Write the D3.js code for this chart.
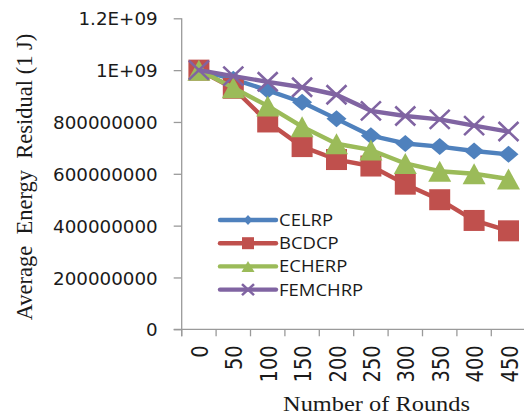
<!DOCTYPE html>
<html>
<head>
<meta charset="utf-8">
<script src="https://cdn.jsdelivr.net/npm/d3@7"></script>
<style>
  html, body { margin: 0; padding: 0; background: #fff; }
  svg { display: block; }
</style>
</head>
<body>
<svg id="chart" width="524" height="420"></svg>
<script>
// Rounds on the x axis
const rounds = ["0", "50", "100", "150", "200", "250", "300", "350", "400", "450"];

// Average residual energy per protocol
const celrp   = [1000e6, 965e6, 922e6, 876e6, 812e6, 747e6, 717e6, 705e6, 688e6, 675e6];
const bcdcp   = [1000e6, 930e6, 800e6, 705e6, 655e6, 630e6, 560e6, 500e6, 420e6, 380e6];
const echerp  = [1000e6, 932e6, 862e6, 782e6, 716e6, 692e6, 640e6, 610e6, 600e6, 580e6];
const femchrp = [1000e6, 977e6, 955e6, 934e6, 905e6, 843e6, 823e6, 810e6, 786e6, 763e6];

const seriesNames = ["CELRP", "BCDCP", "ECHERP", "FEMCHRP"];
const yTickValues = [0, 200e6, 400e6, 600e6, 800e6, 1000e6, 1200e6];
const yTickLabels = ["0", "200000000", "400000000", "600000000", "800000000", "1E+09", "1.2E+09"];

const series = [
  { name: seriesNames[0], values: celrp,   color: "#4F81BD", marker: "diamond" },
  { name: seriesNames[1], values: bcdcp,   color: "#C0504D", marker: "square" },
  { name: seriesNames[2], values: echerp,  color: "#9BBB59", marker: "triangle" },
  { name: seriesNames[3], values: femchrp, color: "#8064A2", marker: "cross" }
];

const svg = d3.select("#chart");

const plot = { left: 181.7, top: 18.3, bottom: 329.3, band: 34.4 };
const x = d3.scaleBand()
  .domain(rounds)
  .range([plot.left, plot.left + plot.band * rounds.length])
  .paddingInner(0).paddingOuter(0);
const y = d3.scaleLinear().domain([0, 1.2e9]).range([plot.bottom, plot.top]);

const axisColor = "#9a9a9a";

// Y axis
const yAxis = svg.append("g")
  .attr("transform", `translate(${plot.left},0)`)
  .call(d3.axisLeft(y).tickValues(yTickValues).tickSize(8).tickPadding(16)
    .tickFormat((d, i) => yTickLabels[i]));
yAxis.select(".domain").attr("stroke", axisColor).attr("stroke-width", 1.3)
  .attr("d", `M0,${plot.top}V${plot.bottom + 7}`);
yAxis.selectAll(".tick line").attr("stroke", axisColor).attr("stroke-width", 1.3);
yAxis.selectAll(".tick text")
  .attr("font-family", "DejaVu Sans, sans-serif")
  .attr("font-size", 18.3)
  .attr("fill", "#1a1a1a")
  .attr("dy", "0.36em");

// X axis: ticks at category boundaries
const xAxisG = svg.append("g").attr("transform", `translate(0,${plot.bottom})`);
xAxisG.append("line")
  .attr("x1", plot.left - 8).attr("x2", x.range()[1])
  .attr("y1", 0).attr("y2", 0)
  .attr("stroke", axisColor).attr("stroke-width", 1.3);
xAxisG.selectAll(".xtick")
  .data(rounds)
  .join("line")
  .attr("class", "xtick")
  .attr("x1", d => x(d)).attr("x2", d => x(d))
  .attr("y1", 0).attr("y2", 7)
  .attr("stroke", axisColor).attr("stroke-width", 1.3);
xAxisG.selectAll(".xlabel")
  .data(rounds)
  .join("text")
  .attr("class", "xlabel")
  .attr("transform", d => `translate(${x(d) + x.bandwidth() / 2 + 1},16) scale(1.15,1) rotate(-90)`)
  .attr("text-anchor", "end")
  .attr("dy", "0.36em")
  .attr("font-family", "DejaVu Sans, sans-serif")
  .attr("font-size", 19.5)
  .attr("fill", "#1a1a1a")
  .text(d => d);

// Axis titles
svg.append("text")
  .attr("transform", "translate(376.5,411) scale(1.22,1)")
  .attr("text-anchor", "middle")
  .attr("font-family", "Liberation Serif, Times New Roman, serif")
  .attr("font-size", 20)
  .attr("fill", "#1a1a1a")
  .text("Number of Rounds");

svg.append("text")
  .attr("transform", "translate(32,177) rotate(-90)")
  .attr("text-anchor", "middle")
  .attr("font-family", "Liberation Serif, Times New Roman, serif")
  .attr("font-size", 22.5)
  .attr("fill", "#1a1a1a")
  .style("white-space", "pre")
  .text("Average  Energy  Residual (1 J)");

// Marker shapes, centred on the origin
function markerPath(kind, s) {
  const w = s.w / 2, h = s.h / 2;
  if (kind === "diamond") return `M0,${-h}L${w},0L0,${h}L${-w},0Z`;
  if (kind === "square") return `M${-w},${-h}H${w}V${h}H${-w}Z`;
  if (kind === "triangle") return `M0,${-h}L${w},${h}H${-w}Z`;
  return `M${-w},${-h}L${w},${h}M${w},${-h}L${-w},${h}`;
}
const bigSize = {
  diamond: { w: 20, h: 17 }, square: { w: 21, h: 21 },
  triangle: { w: 23, h: 21 }, cross: { w: 20, h: 19 }
};
const smallSize = {
  diamond: { w: 9, h: 10 }, square: { w: 12, h: 12 },
  triangle: { w: 13, h: 11 }, cross: { w: 12, h: 11 }
};

function drawMarker(g, kind, color, size) {
  const p = g.append("path").attr("d", markerPath(kind, size));
  if (kind === "cross") {
    p.attr("fill", "none").attr("stroke", color).attr("stroke-width", 2.6);
  } else {
    p.attr("fill", color);
  }
}

const line = d3.line()
  .x((d, i) => x(rounds[i]) + x.bandwidth() / 2)
  .y(d => y(d));

series.forEach(s => {
  const g = svg.append("g");
  g.append("path")
    .attr("d", line(s.values))
    .attr("fill", "none")
    .attr("stroke", s.color)
    .attr("stroke-width", 4.4)
    .attr("stroke-linejoin", "round")
    .attr("stroke-linecap", "round");
  s.values.forEach((v, i) => {
    const mg = g.append("g")
      .attr("transform", `translate(${x(rounds[i]) + x.bandwidth() / 2},${y(v)})`);
    drawMarker(mg, s.marker, s.color, bigSize[s.marker]);
  });
});

// Legend
const legend = svg.append("g").attr("transform", "translate(220,220)");
series.forEach((s, i) => {
  const row = legend.append("g").attr("transform", `translate(0,${i * 23.2})`);
  row.append("line")
    .attr("x1", 0).attr("x2", 56)
    .attr("stroke", s.color).attr("stroke-width", 4.4)
    .attr("stroke-linecap", "round");
  const mg = row.append("g").attr("transform", "translate(28,0)");
  drawMarker(mg, s.marker, s.color, smallSize[s.marker]);
  row.append("text")
    .attr("transform", "translate(59,0) scale(1.1,1)")
    .attr("dy", "0.36em")
    .attr("font-family", "Open Sans, sans-serif")
    .attr("font-size", 16.8)
    .attr("fill", "#1a1a1a")
    .text(s.name);
});
</script>
</body>
</html>
